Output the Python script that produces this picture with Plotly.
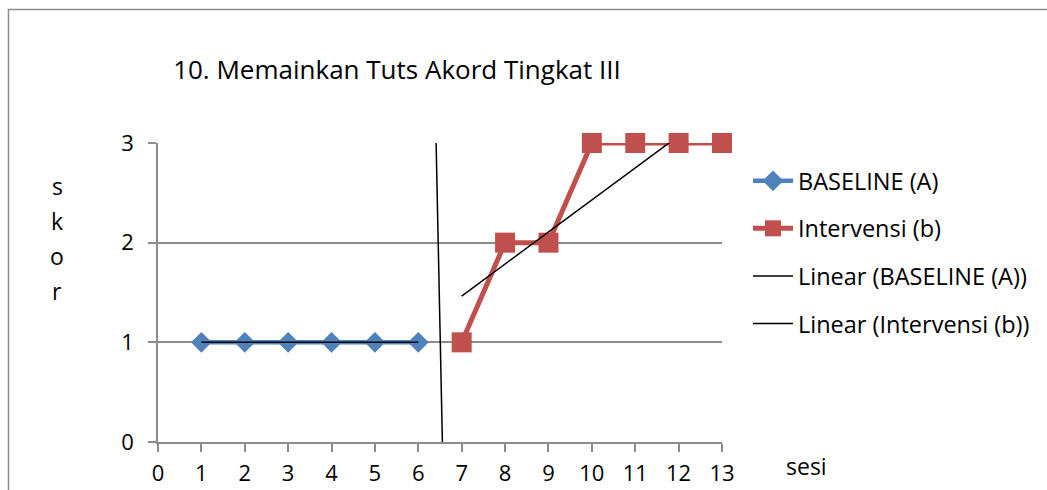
import numpy as np
import plotly.graph_objects as go

# Session scores
baseline_sesi = [1, 2, 3, 4, 5, 6]
baseline_skor = [1, 1, 1, 1, 1, 1]
intervensi_sesi = [7, 8, 9, 10, 11, 12, 13]
intervensi_skor = [1, 2, 2, 3, 3, 3, 3]

# Phase change line between baseline and intervention
phase_x = [6.41, 6.555]
phase_y = [3, 0]

x_ticks = list(range(0, 14))
y_ticks = [0, 1, 2, 3]

FONT = "Open Sans"
BLUE = "#4F81BD"
RED = "#C0504D"
GRID = "#8C8C8C"

W, H = 1047, 490
L, R, T, B = 158, 325, 143, 48

# Least-squares trend lines for each phase
def trend(xs, ys):
    m, c = np.polyfit(xs, ys, 1)
    xs = np.array(xs, dtype=float)
    return xs, m * xs + c

bx, by = trend(baseline_sesi, baseline_skor)
ix, iy = trend(intervensi_sesi, intervensi_skor)

fig = go.Figure()

fig.add_trace(go.Scatter(
    x=baseline_sesi, y=baseline_skor, mode="lines+markers",
    name="BASELINE (A)", legendgroup="a",
    line=dict(color=BLUE, width=4.5),
    marker=dict(symbol="diamond", size=16, color=BLUE),
    cliponaxis=False,
))
fig.add_trace(go.Scatter(
    x=intervensi_sesi, y=intervensi_skor, mode="lines+markers",
    name="Intervensi (b)", legendgroup="b",
    line=dict(color=RED, width=5),
    marker=dict(symbol="square", size=20, color=RED),
    cliponaxis=False,
))
fig.add_trace(go.Scatter(
    x=bx, y=by, mode="lines", name="Linear (BASELINE (A))", legendgroup="c",
    line=dict(color="black", width=1.5),
))
fig.add_trace(go.Scatter(
    x=ix, y=iy, mode="lines", name="Linear (Intervensi (b))", legendgroup="d",
    line=dict(color="black", width=1.5),
))
fig.add_trace(go.Scatter(
    x=phase_x, y=phase_y, mode="lines", showlegend=False, hoverinfo="skip",
    line=dict(color="black", width=1.5),
))

pw, ph = W - L - R, H - T - B

def px_to_paper_x(px):
    return (px - L) / pw

def px_to_paper_y(py):
    return (H - B - py) / ph

# Chart area frame
fig.add_shape(
    type="rect", xref="paper", yref="paper",
    x0=px_to_paper_x(8.5), x1=px_to_paper_x(W + 20),
    y0=px_to_paper_y(H + 20), y1=px_to_paper_y(9.5),
    line=dict(color="#8C8C8C", width=1.5), layer="below",
)

# Stacked vertical axis label
for i, ch in enumerate("skor"):
    fig.add_annotation(
        text=ch, xref="paper", yref="paper",
        x=px_to_paper_x(57), y=px_to_paper_y(186 + i * 35),
        showarrow=False, font=dict(family=FONT, size=23, color="black"),
        xanchor="center", yanchor="middle",
    )

fig.add_annotation(
    text="sesi", xref="paper", yref="paper",
    x=px_to_paper_x(806), y=px_to_paper_y(466),
    showarrow=False, font=dict(family=FONT, size=23, color="black"),
    xanchor="center", yanchor="middle",
)

fig.update_layout(
    width=W, height=H,
    margin=dict(l=L, r=R, t=T, b=B, autoexpand=False),
    paper_bgcolor="white", plot_bgcolor="white",
    font=dict(family=FONT, size=23, color="black"),
    title=dict(
        text="10. Memainkan Tuts Akord Tingkat III",
        x=px_to_paper_x(397), xref="paper", xanchor="center",
        y=1 - 70 / H, yref="container", yanchor="middle",
        font=dict(family=FONT, size=26, color="black"),
    ),
    showlegend=True,
    legend=dict(
        x=px_to_paper_x(748), xanchor="left", xref="paper",
        y=px_to_paper_y(159), yanchor="top",
        traceorder="grouped", tracegroupgap=14,
        font=dict(family=FONT, size=23.5, color="black"),
        bgcolor="rgba(0,0,0,0)", itemwidth=40,
    ),
    xaxis=dict(
        range=[0, 13], tickvals=x_ticks, ticktext=[str(v) for v in x_ticks],
        showgrid=False, zeroline=False, automargin=False,
        showline=True, linecolor=GRID, linewidth=1.5,
        ticks="outside", ticklen=8, tickcolor=GRID, tickwidth=1.5,
        ticklabelstandoff=3,
        tickfont=dict(family=FONT, size=22),
    ),
    yaxis=dict(
        range=[0, 3], tickvals=y_ticks, ticktext=[str(v) for v in y_ticks],
        showgrid=True, gridcolor=GRID, gridwidth=1.5, zeroline=False,
        automargin=False,
        showline=True, linecolor=GRID, linewidth=1.5,
        ticks="outside", ticklen=8, tickcolor=GRID, tickwidth=1.5,
        ticklabelstandoff=10,
        tickfont=dict(family=FONT, size=22),
    ),
)

fig.write_html("out.html")
